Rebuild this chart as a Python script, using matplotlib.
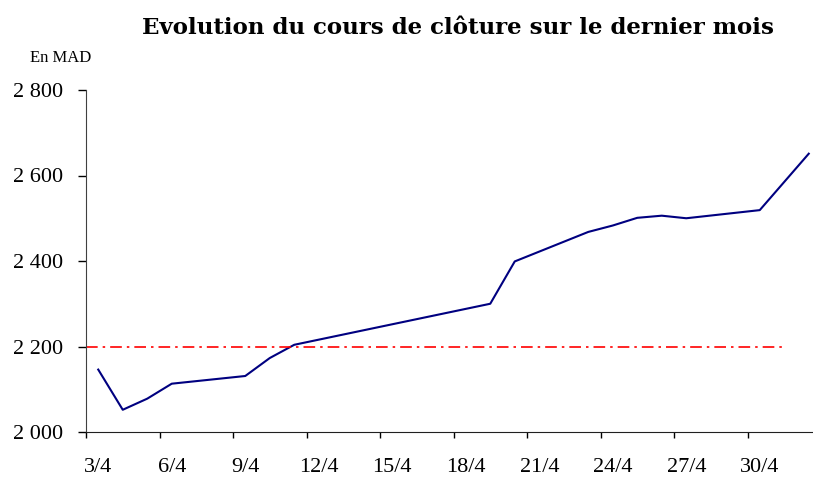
import matplotlib
matplotlib.use("Agg")
import matplotlib.pyplot as plt
from matplotlib.ticker import FuncFormatter

# closing prices (April), day of month -> MAD
days = [3, 4, 5, 6, 9, 10, 11, 19, 20, 23, 24, 25, 26, 27, 30, 32]
prices = [2146, 2052, 2078, 2113, 2131, 2173, 2204, 2300, 2399, 2468, 2483,
          2501, 2506, 2500, 2519, 2651]
ref_level = 2200
ref_span = [2.5, 30.9]

tick_days = [3, 6, 9, 12, 15, 18, 21, 24, 27, 30]
tick_labels = ["%d/4" % d for d in tick_days]
y_ticks = [2000, 2200, 2400, 2600, 2800]

plt.rcParams['font.family'] = ['Liberation Serif', 'DejaVu Serif']

fig = plt.figure(figsize=(8.13, 4.79), dpi=100)
ax = fig.add_axes([86 / 813, 1 - 432 / 479, 1 - 86 / 813, (432 - 90) / 479])

ax.plot(days, prices, color='#000080', lw=1.5)
ax.plot(ref_span, [ref_level, ref_level], color='red', lw=1.2,
        linestyle=(0, (7, 3, 1.5, 3)))

ax.set_ylim(2000, 2800)
ax.set_xlim(2.5, 2.5 + 727 / 24.5)

# day ticks sit between days, labels centred on the day
ax.set_xticks([d - 0.5 for d in tick_days])
ax.set_xticklabels([])
ax.set_xticks(tick_days, minor=True)
ax.set_xticklabels(tick_labels, minor=True)
ax.tick_params(axis='x', which='major', length=4.3, width=1, direction='out')
ax.tick_params(axis='x', which='minor', length=0, pad=19, labelsize=16)

ax.set_yticks(y_ticks)
ax.yaxis.set_major_formatter(FuncFormatter(lambda v, p: "{:,.0f}".format(v).replace(",", " ")))
ax.tick_params(axis='y', length=5.8, width=1, direction='out', pad=10.5, labelsize=16)

for s in ['top', 'right']:
    ax.spines[s].set_visible(False)
ax.spines['left'].set_color('#404040')
ax.spines['bottom'].set_color('#202020')

fig.text(458 / 813, 1 - 28 / 479, "Evolution du cours de clôture sur le dernier mois",
         ha='center', va='center', fontsize=16.5, fontweight='bold', family='DejaVu Serif')
fig.text(61 / 813, 1 - 58 / 479, "En MAD", ha='center', va='center', fontsize=12)

fig.savefig("out.png", dpi=100)
